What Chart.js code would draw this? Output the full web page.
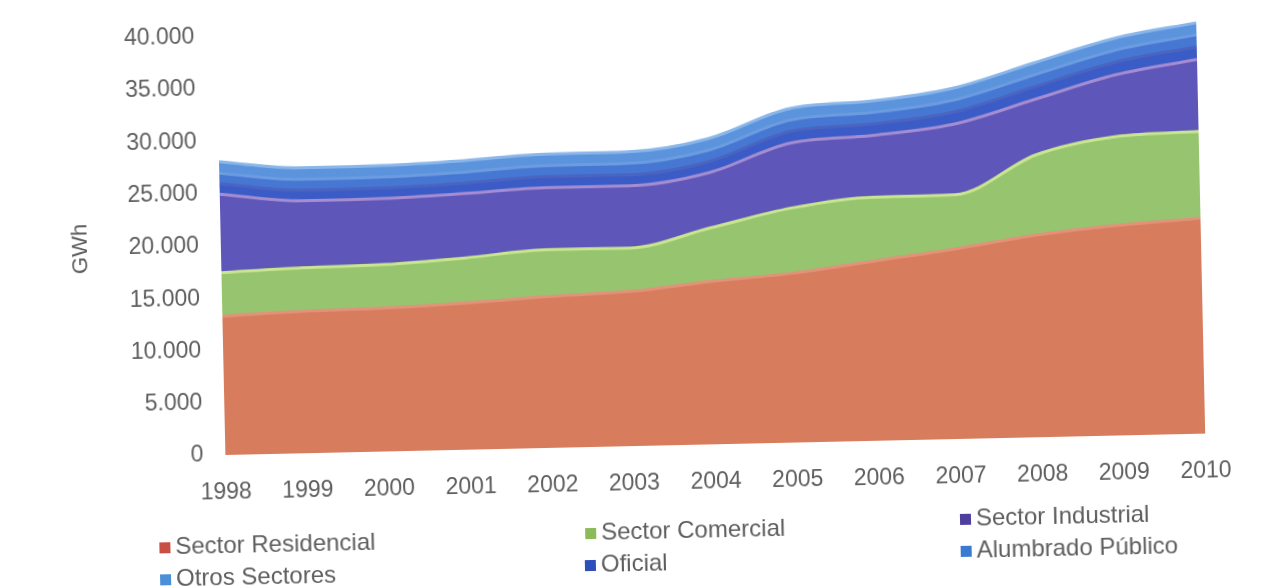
<!DOCTYPE html>
<html>
<head>
<meta charset="utf-8">
<script src="https://cdn.jsdelivr.net/npm/chart.js@4.4.1/dist/chart.umd.min.js"></script>
<style>
  html, body { margin: 0; padding: 0; background: #ffffff; overflow: hidden; }
  #wrap { width: 1270px; height: 588px; transform: rotate(-1.25deg); transform-origin: 635px 294px; }
</style>
</head>
<body>
<div id="wrap"><canvas id="c" width="1270" height="588"></canvas></div>
<script>
// ---- data (GWh) ----
const years = ['1998','1999','2000','2001','2002','2003','2004','2005','2006','2007','2008','2009','2010'];
const residencial = [13270, 13580, 13720, 14030, 14480, 14790, 15580, 16200, 17200, 18200, 19350, 20100, 20600];
const comercial   = [4170, 4160, 4160, 4320, 4480, 4160, 5120, 6240, 6100, 5160, 7650, 8500, 8300];
const industrial  = [7510, 6410, 6320, 6150, 5940, 5950, 5300, 6210, 5900, 6740, 5300, 5900, 6900];
const oficial     = [1000, 1000, 1000, 1000, 1050, 1050, 1050, 1100, 1100, 1150, 1200, 1200, 1200];
const alumbrado   = [1000, 1050, 1050, 1050, 1050, 1100, 1100, 1100, 1100, 1150, 1150, 1150, 1150];
const otros       = [1100, 1100, 1100, 1100, 1100, 1100, 1100, 1100, 1100, 1150, 1150, 1150, 1150];
const seriesNames = ['Sector Residencial', 'Sector Comercial', 'Sector Industrial', 'Oficial', 'Alumbrado Público', 'Otros Sectores'];
const yTicks = [0, 5000, 10000, 15000, 20000, 25000, 30000, 35000, 40000];

// ---- styles ----
const fills   = ['#d77c5d', '#96c46f', '#5e56b9', '#3b5cc6', '#4677d3', '#5b93dc'];
const edges   = ['#e3927a', '#c9e58f', '#a48dd2', '#4a64c0', '#6c9ce0', '#8ab6ea'];
const markers = ['#c94f45', '#8cbb5c', '#4e3f9e', '#2d4fba', '#3a7ad0', '#4b8fd8'];
const legendPos = [[154, 537], [580, 532], [955, 526], [579, 564], [955, 558], [154, 569]];
const textColor = '#5e5e5e';
const FONT = '"Liberation Sans", Arial, sans-serif';

const values = [residencial, comercial, industrial, oficial, alumbrado, otros];
const datasets = values.map((v, i) => ({
  label: seriesNames[i],
  data: v,
  fill: i === 0 ? 'origin' : '-1',
  backgroundColor: fills[i],
  borderColor: edges[i],
  borderWidth: 3,
  pointRadius: 0,
  cubicInterpolationMode: 'monotone'
}));

const legendPlugin = {
  id: 'gridLegend',
  afterDraw(chart) {
    const ctx = chart.ctx;
    ctx.save();
    ctx.font = '24px ' + FONT;
    ctx.textBaseline = 'middle';
    ctx.textAlign = 'left';
    chart.data.datasets.forEach((ds, i) => {
      const [x, y] = legendPos[i];
      ctx.fillStyle = markers[i];
      ctx.fillRect(x, y - 5, 11, 11);
      ctx.fillStyle = textColor;
      ctx.fillText(ds.label, x + 16, y);
    });
    ctx.restore();
  }
};

new Chart(document.getElementById('c'), {
  type: 'line',
  data: { labels: years, datasets },
  options: {
    responsive: false,
    animation: false,
    layout: { padding: { left: 65, right: 68, top: 17, bottom: 82 } },
    plugins: { legend: { display: false }, tooltip: { enabled: false } },
    scales: {
      x: {
        offset: false,
        grid: { display: false },
        border: { display: false },
        ticks: { color: textColor, font: { family: FONT, size: 23 }, padding: 16, maxRotation: 0, autoSkip: false },
        afterFit(s) { s.height = 60; }
      },
      y: {
        stacked: true,
        min: 0, max: 40000,
        grid: { display: false },
        border: { display: false },
        title: { display: true, text: 'GWh', color: textColor, font: { family: FONT, size: 22 } },
        afterBuildTicks(s) { s.ticks = yTicks.map(v => ({ value: v })); },
        ticks: {
          color: textColor, font: { family: FONT, size: 23 }, padding: 14,
          callback: v => v.toLocaleString('de-DE')
        },
        afterFit(s) { s.width = 157; }
      }
    }
  },
  plugins: [legendPlugin]
});
</script>
</body>
</html>
